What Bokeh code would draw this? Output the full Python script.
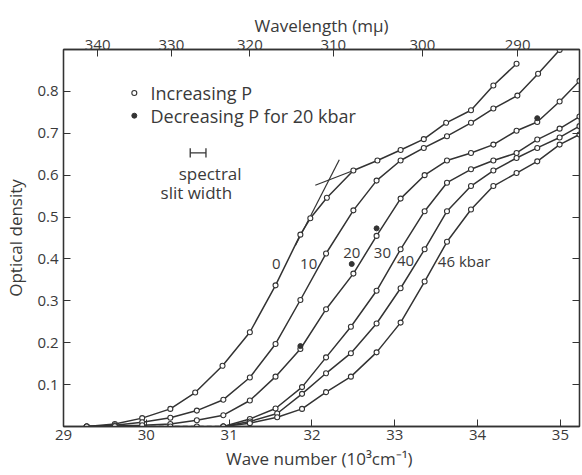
from bokeh.plotting import figure
from bokeh.models import LinearAxis, FixedTicker, CustomJSTickFormatter, Label
from bokeh.embed import file_html
from bokeh.resources import INLINE

# ---- data (wave number in 10^3 cm^-1, optical density) ----
wn_0 = [29.28, 29.62, 29.95, 30.29, 30.59, 30.92, 31.25, 31.56, 31.86, 31.98, 32.18,
        32.50, 32.79, 33.07, 33.35, 33.62, 33.92, 34.19, 34.47]
od_0 = [0.0, 0.006, 0.020, 0.042, 0.081, 0.145, 0.225, 0.337, 0.458, 0.497, 0.546,
        0.611, 0.635, 0.660, 0.686, 0.725, 0.755, 0.814, 0.866]

wn_10 = [29.28, 29.62, 29.95, 30.29, 30.61, 30.93, 31.25, 31.56, 31.86, 32.17, 32.50,
         32.78, 33.07, 33.35, 33.63, 33.92, 34.19, 34.48, 34.73, 34.99]
od_10 = [0.0, 0.003, 0.010, 0.021, 0.038, 0.064, 0.117, 0.197, 0.302, 0.413, 0.516,
         0.587, 0.635, 0.665, 0.693, 0.725, 0.759, 0.790, 0.842, 0.899]

wn_20 = [29.28, 29.62, 29.95, 30.29, 30.61, 30.93, 31.25, 31.56, 31.86, 32.17, 32.50,
         32.78, 33.07, 33.36, 33.63, 33.92, 34.19, 34.47, 34.72, 34.99, 35.23]
od_20 = [0.0, 0.001, 0.003, 0.006, 0.015, 0.027, 0.062, 0.119, 0.185, 0.280, 0.365,
         0.455, 0.544, 0.600, 0.635, 0.653, 0.673, 0.706, 0.727, 0.776, 0.825]

wn_30 = [30.93, 31.25, 31.56, 31.88, 32.17, 32.47, 32.78, 33.07, 33.36, 33.63, 33.92,
         34.19, 34.47, 34.72, 34.99, 35.23]
od_30 = [0.0, 0.018, 0.043, 0.094, 0.165, 0.238, 0.324, 0.423, 0.514, 0.582, 0.614,
         0.635, 0.653, 0.685, 0.711, 0.740]

wn_40 = [30.93, 31.25, 31.58, 31.88, 32.17, 32.47, 32.78, 33.07, 33.36, 33.63, 33.92,
         34.19, 34.47, 34.72, 34.99, 35.23]
od_40 = [0.0, 0.012, 0.031, 0.078, 0.127, 0.175, 0.246, 0.330, 0.423, 0.514, 0.574,
         0.611, 0.641, 0.665, 0.690, 0.717]

wn_46 = [30.93, 31.25, 31.58, 31.88, 32.17, 32.47, 32.78, 33.07, 33.36, 33.63, 33.92,
         34.19, 34.47, 34.72, 34.99, 35.23]
od_46 = [0.0, 0.008, 0.022, 0.042, 0.082, 0.119, 0.177, 0.248, 0.346, 0.441, 0.518,
         0.574, 0.605, 0.633, 0.673, 0.697]

# decreasing pressure (20 kbar) points
dec_wn = [31.86, 32.48, 32.78, 34.72]
dec_od = [0.192, 0.388, 0.473, 0.736]

# baseline (zero absorbance) points
base_wn = [29.28, 30.29, 30.61, 30.93]
base_od = [0.0, 0.0, 0.0, 0.0]

# tangent construction lines
tan1_wn = [31.80, 32.33]
tan1_od = [0.432, 0.637]
tan2_wn = [32.04, 32.50]
tan2_od = [0.576, 0.611]

curve_labels = ["0", "10", "20", "30", "40", "46 kbar"]
curve_label_x = [31.57, 31.96, 32.48, 32.85, 33.13, 33.52]
curve_label_y = [0.389, 0.389, 0.415, 0.413, 0.395, 0.395]

x_ticks = [29, 30, 31, 32, 33, 34, 35]
y_ticks = [0.1, 0.2, 0.3, 0.4, 0.5, 0.6, 0.7, 0.8]
wavelengths = [340, 330, 320, 310, 300, 290]   # m-mu

FONT = "Open Sans"
INK = "#333333"
TXT = "#3a3a3a"

p = figure(width=582, height=475, x_range=(29.0, 35.23), y_range=(0.0, 0.9),
           output_backend="svg", toolbar_location=None,
           x_axis_label="Wave number  (10\u00b3cm\u207b\u00b9)",
           y_axis_label="Optical density",
           min_border_left=63, min_border_right=3, min_border_top=49, min_border_bottom=49)
p.background_fill_color = "white"
p.border_fill_color = "white"
p.outline_line_color = INK
p.outline_line_width = 1.3
p.xgrid.visible = False
p.ygrid.visible = False

def style_axis(ax):
    ax.axis_line_color = INK
    ax.axis_line_width = 1.3
    ax.major_tick_line_color = INK
    ax.major_tick_in = 7
    ax.major_tick_out = 0
    ax.minor_tick_line_color = None
    ax.major_label_text_font = FONT
    ax.major_label_text_font_size = "15px"
    ax.major_label_text_color = TXT
    ax.axis_label_text_font = FONT
    ax.axis_label_text_font_size = "17px"
    ax.axis_label_text_font_style = "normal"
    ax.axis_label_text_color = TXT

xa = p.xaxis[0]
xa.ticker = FixedTicker(ticks=x_ticks)
style_axis(xa)
xa.major_label_standoff = 3
xa.axis_label_standoff = 4

ya = p.yaxis[0]
ya.ticker = FixedTicker(ticks=y_ticks)
style_axis(ya)
ya.major_label_standoff = 5
ya.axis_label_standoff = 7

top = LinearAxis(ticker=FixedTicker(ticks=[1e4 / w for w in wavelengths]),
                 formatter=CustomJSTickFormatter(code="return Math.round(10000/tick).toString();"),
                 axis_label="Wavelength (m\u03bc)")
style_axis(top)
top.major_label_standoff = 0
top.axis_label_standoff = 0
p.add_layout(top, "above")

right = LinearAxis(ticker=FixedTicker(ticks=y_ticks),
                   formatter=CustomJSTickFormatter(code="return '';"))
style_axis(right)
right.major_label_standoff = 0
right.axis_label = None
p.add_layout(right, "right")

# curves
for wn, od in [(wn_0, od_0), (wn_10, od_10), (wn_20, od_20),
               (wn_30, od_30), (wn_40, od_40), (wn_46, od_46)]:
    p.line(wn, od, line_color=INK, line_width=1.5)

p.line(base_wn, base_od, line_color=INK, line_width=1.3, line_dash="5 3")
p.line(tan1_wn, tan1_od, line_color=INK, line_width=1.2)
p.line(tan2_wn, tan2_od, line_color=INK, line_width=1.2)

for wn, od in [(wn_0, od_0), (wn_10, od_10), (wn_20, od_20),
               (wn_30, od_30), (wn_40, od_40), (wn_46, od_46), (base_wn, base_od)]:
    p.scatter(wn, od, size=5, marker="circle", fill_color="white",
              line_color=INK, line_width=1.1)

p.scatter(dec_wn, dec_od, size=5, marker="circle", fill_color=INK, line_color=INK)

# curve labels
for t, x, y in zip(curve_labels, curve_label_x, curve_label_y):
    p.add_layout(Label(x=x, y=y, text=t, text_font=FONT, text_font_size="15px",
                       text_color=TXT, text_align="left" if "kbar" in t else "center",
                       text_baseline="middle"))

# legend (drawn as in the original: symbols + text)
leg_x = [29.855, 29.855]
leg_y = [0.796, 0.742]
p.scatter([leg_x[0]], [leg_y[0]], size=5, marker="circle", fill_color="white",
          line_color=INK, line_width=1.1)
p.scatter([leg_x[1]], [leg_y[1]], size=5, marker="circle", fill_color=INK, line_color=INK)
p.add_layout(Label(x=30.05, y=leg_y[0], text="Increasing P", text_font=FONT,
                   text_font_size="18px", text_color=TXT, text_baseline="middle"))
p.add_layout(Label(x=30.05, y=leg_y[1], text="Decreasing P for 20 kbar", text_font=FONT,
                   text_font_size="18px", text_color=TXT, text_baseline="middle"))

# spectral slit width marker
slit_x = [30.53, 30.72]
slit_y = 0.653
p.segment(x0=[slit_x[0]], y0=[slit_y], x1=[slit_x[1]], y1=[slit_y], line_color=INK, line_width=1.3)
p.segment(x0=slit_x, y0=[slit_y - 0.011] * 2, x1=slit_x, y1=[slit_y + 0.011] * 2,
          line_color=INK, line_width=1.3)
p.add_layout(Label(x=30.77, y=0.605, text="spectral", text_font=FONT, text_font_size="17px",
                   text_color=TXT, text_align="center", text_baseline="middle"))
p.add_layout(Label(x=30.63, y=0.558, text="slit  width", text_font=FONT, text_font_size="17px",
                   text_color=TXT, text_align="center", text_baseline="middle"))

open("out.html", "w").write(file_html(p, INLINE))
